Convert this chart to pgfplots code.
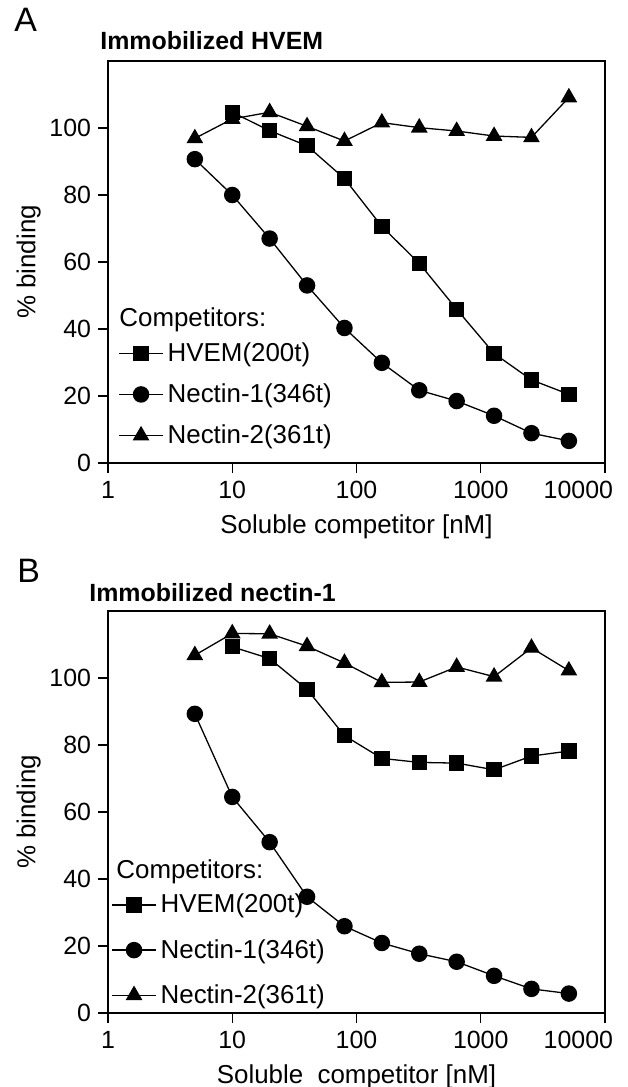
\documentclass[border=0pt]{standalone}
\usepackage{fontspec}
\setmainfont{Liberation Sans}
\usepackage{pgfplots}
\pgfplotsset{compat=1.18}

\newcommand{\lbl}{\fontsize{13}{15}\selectfont}
\newcommand{\tkl}{\fontsize{12.5}{14}\selectfont}

\pgfplotsset{
  every axis/.append style={
    xmode=log, log basis x=10,
    scale only axis, width=248.5bp, height=201bp,
    xmin=1, xmax=10000, ymin=0, ymax=120,
    xtick={1,10,100,1000,10000},
    xticklabels={1,10,100,1000,{\kern8bp\makebox[0pt][r]{10000}}},
    ytick={0,20,40,60,80,100},
    xminorticks=false,
    tick align=outside, xtick pos=bottom, ytick pos=left,
    major tick length=5bp,
    axis line style={line width=0.7bp},
    every tick/.style={black, line width=0.7bp},
    tick label style={font=\tkl},
    xticklabel style={yshift=-0.5bp},
    label style={font=\lbl},
    xlabel style={yshift=-1bp},
    ylabel shift=-2.5bp,
    /pgf/number format/assume math mode=true,
    clip=false,
    legend cell align=left,
    legend style={draw=none, fill=none, font=\lbl,
      inner xsep=0pt, inner ysep=0pt},
    ylabel={\% binding},
  },
  legend image code/.code={\draw[mark repeat=2,mark phase=2]
      plot coordinates {(0bp,0bp)(11bp,0bp)(22bp,0bp)};},
}
\tikzset{
  sq/.style={black, line width=0.65bp, mark=square*, mark size=3.5bp},
  ci/.style={black, line width=0.65bp, mark=*, mark size=3.8bp},
  tr/.style={black, line width=0.65bp, mark=triangle*, mark size=4.2bp},
}

\begin{document}
\begin{tikzpicture}
\useasboundingbox (-54bp,-312bp) rectangle (260bp,231.5bp);

% panel A: immobilized HVEM
\begin{axis}[at={(0,0)}, anchor=south west,
  xlabel={Soluble competitor [nM]},
  legend style={at={(axis cs:1,37.3)}, anchor=north west, xshift=5bp, row sep=5.7bp}]
\addplot[sq] coordinates {(10,104.7)(20,99.2)(40,94.7)(80,84.9)(160,70.6)(320,59.6)(640,45.9)(1280,32.7)(2560,24.8)(5120,20.5)};
\addlegendentry{HVEM(200t)}
\addplot[ci] coordinates {(5,90.7)(10,80)(20,67)(40,53)(80,40.3)(160,29.9)(320,21.7)(640,18.5)(1280,14.1)(2560,8.9)(5120,6.6)};
\addlegendentry{Nectin-1(346t)}
\addplot[tr] coordinates {(5,96.9)(10,102.7)(20,104.7)(40,100.5)(80,96.1)(160,101.6)(320,100.1)(640,99.1)(1280,97.6)(2560,97.2)(5120,109.1)};
\addlegendentry{Nectin-2(361t)}
\node[anchor=base west, font=\lbl, inner sep=0pt, xshift=5.5bp] at (axis cs:1,40.6) {Competitors:};
\node[anchor=base west, font=\bfseries\fontsize{12.5}{14}\selectfont, inner sep=0pt, xshift=-4bp, yshift=5.5bp] at (rel axis cs:0,1) {Immobilized HVEM};
\node[anchor=base west, font=\fontsize{17}{20}\selectfont, inner sep=0pt, xshift=-47bp, yshift=14.5bp] at (rel axis cs:0,1) {A};
\end{axis}

% panel B: immobilized nectin-1
\begin{axis}[at={(0,-275bp)}, anchor=south west,
  xlabel={Soluble\ \ competitor [nM]},
  legend style={at={(axis cs:1,36.8)}, anchor=north west, xshift=1.5bp, row sep=7.7bp}]
\addplot[sq] coordinates {(10,109.3)(20,105.8)(40,96.6)(80,82.8)(160,76)(320,74.8)(640,74.6)(1280,72.6)(2560,76.7)(5120,78.2)};
\addlegendentry{HVEM(200t)}
\addplot[ci] coordinates {(5,89.3)(10,64.5)(20,51)(40,34.7)(80,25.9)(160,20.9)(320,17.7)(640,15.3)(1280,11.1)(2560,7.2)(5120,5.8)};
\addlegendentry{Nectin-1(346t)}
\addplot[tr] coordinates {(5,106.8)(10,113.3)(20,113.2)(40,109.5)(80,104.5)(160,98.7)(320,98.8)(640,103.3)(1280,100.4)(2560,109)(5120,102.2)};
\addlegendentry{Nectin-2(361t)}
\node[anchor=base west, font=\lbl, inner sep=0pt, xshift=4bp] at (axis cs:1,40.3) {Competitors:};
\node[anchor=base west, font=\bfseries\fontsize{12.5}{14}\selectfont, inner sep=0pt, xshift=-9.5bp, yshift=5bp] at (rel axis cs:0,1) {Immobilized nectin-1};
\node[anchor=base west, font=\fontsize{17}{20}\selectfont, inner sep=0pt, xshift=-45.5bp, yshift=14.5bp] at (rel axis cs:0,1) {B};
\end{axis}
\end{tikzpicture}
\end{document}
